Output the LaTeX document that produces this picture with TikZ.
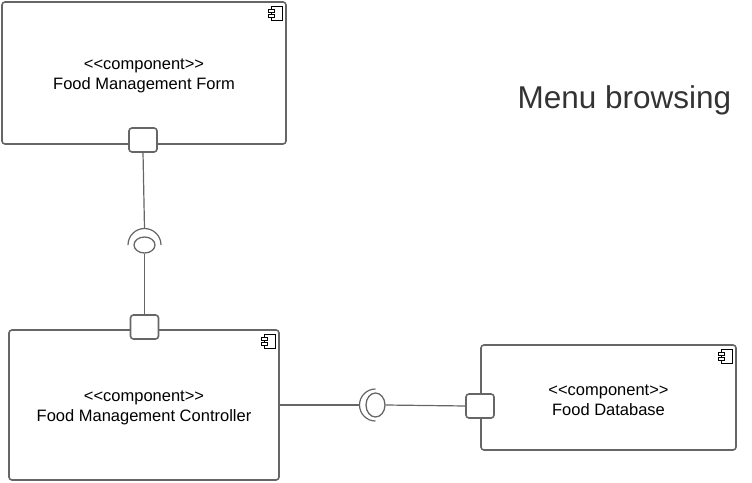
\documentclass[tikz,border=0pt]{standalone}
\usepackage{fontspec}
\setmainfont{Liberation Sans}
\usetikzlibrary{shapes.geometric}
\definecolor{edge}{HTML}{666666}
\definecolor{title}{HTML}{333333}
\tikzset{
  comp/.style={draw=edge, line width=1.6pt, rounded corners=3pt, fill=white,
    align=center, font=\fontsize{16.5}{20}\selectfont},
  port/.style={draw=edge, line width=1.6pt, rounded corners=3pt, fill=white,
    minimum width=28pt, minimum height=24pt, inner sep=0pt},
  ball/.style={draw=edge, line width=1.3pt, ellipse, inner sep=0pt},
  wire/.style={draw=edge, line width=1.2pt}
}
\newcommand{\stereo}{\rule{0pt}{17pt}{<}{<}component{>}{>}}
% little component glyph in the upper right corner of a box
\newcommand{\compicon}[1]{%
  \draw[line width=0.7pt] ([shift={(-15pt,-5pt)}]#1.north east) rectangle ([shift={(-4pt,-19pt)}]#1.north east);
  \draw[line width=0.7pt, fill=white] ([shift={(-18pt,-8pt)}]#1.north east) rectangle ([shift={(-12pt,-11pt)}]#1.north east);
  \draw[line width=0.7pt, fill=white] ([shift={(-18pt,-13pt)}]#1.north east) rectangle ([shift={(-12pt,-16pt)}]#1.north east);
}
\begin{document}
\begin{tikzpicture}[x=1pt, y=1pt]
  \useasboundingbox (0,0) rectangle (752,-482);

  % components
  \node[comp, minimum width=284pt, minimum height=142pt] (form) at (144,-73)
    {\stereo\\Food Management Form};
  \node[comp, minimum width=270pt, minimum height=150pt] (controller) at (144,-405)
    {\stereo\\Food Management Controller};
  \node[comp, minimum width=255pt, minimum height=105pt] (database) at (608.5,-397.5)
    {\stereo\\Food Database};
  \compicon{form}
  \compicon{controller}
  \compicon{database}

  \node[font=\fontsize{31.5}{36}\selectfont, text=title] (heading) at (624.5,-100) {Menu browsing};

  % interfaces
  \node[ball, minimum width=21pt, minimum height=16pt] (ballA) at (144.5,-245) {};
  \node[ball, minimum width=19pt, minimum height=24pt] (ballB) at (375.5,-405) {};
  \draw[wire] (ballA.center) ++(-16.5,0) arc[start angle=180, end angle=0, radius=16.5];
  \draw[wire] (ballB.center) ++(0,16) arc[start angle=90, end angle=270, radius=16];
  \coordinate (sockA) at ([yshift=16.5pt]ballA.center);
  \coordinate (sockB) at ([xshift=-16pt]ballB.center);

  % connectors
  \draw[wire] (143,-152) -- (sockA);
  \draw[wire] (ballA.south) -- (144.5,-315);
  \draw[wire] (controller.east) -- (sockB);
  \draw[wire] (ballB.east) -- (466,-406);

  % ports
  \node[port] (portForm) at (143,-140) {};
  \node[port] (portCtrl) at (144.5,-327) {};
  \node[port] (portDb) at (480,-406) {};
\end{tikzpicture}
\end{document}
